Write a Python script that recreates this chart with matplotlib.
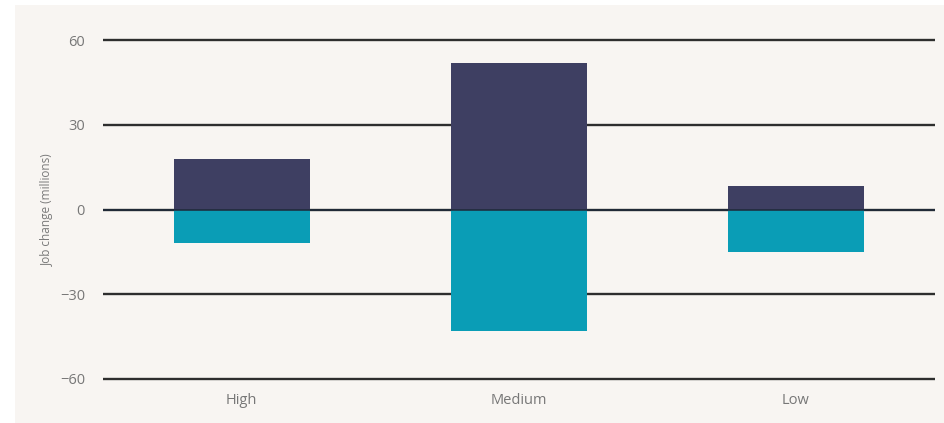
import matplotlib.pyplot as plt
from matplotlib.patches import Rectangle

# Job change by skill level (millions)
skill_levels = ['High', 'Medium', 'Low']
jobs_gained = [18, 52, 8.5]
jobs_lost = [-12, -43, -15]
y_ticks = [-60, -30, 0, 30, 60]

NAVY = '#3e3f62'
TEAL = '#0a9db6'
PANEL = '#f8f5f2'

plt.rcParams['font.family'] = ['Open Sans', 'DejaVu Sans']

fig = plt.figure(figsize=(9.45, 4.23), dpi=100, facecolor='white')
fig.patches.append(Rectangle((15 / 945, 0), 1, 418 / 423, transform=fig.transFigure,
                             facecolor=PANEL, edgecolor='none', zorder=-10))

ax = fig.add_axes([0.109, 0.0974, 0.880, 0.8146])
ax.set_zorder(5)
ax.set_facecolor('none')

x = range(len(skill_levels))
ax.bar(x, jobs_gained, width=0.49, color=NAVY, zorder=2)
ax.bar(x, jobs_lost, width=0.49, color=TEAL, zorder=2)

for t in y_ticks:
    ax.axhline(t, color='#2e2e2e', lw=1.7, zorder=1)
ax.axhline(0, color='#1e2a3a', lw=1.4, alpha=0.8, zorder=3)

ax.set_xlim(-0.5, 2.5)
ax.set_ylim(-61, 61)
ax.set_yticks(y_ticks)
ax.set_yticklabels(['\u221260', '\u221230', '0', '30', '60'])
ax.set_xticks(list(x))
ax.set_xticklabels(skill_levels)
ax.tick_params(axis='both', length=0, labelsize=10.5, labelcolor='#777777')
ax.tick_params(axis='y', pad=13)
ax.tick_params(axis='x', pad=8)
for s in ax.spines.values():
    s.set_visible(False)

ax.set_ylabel('Job change (millions)', fontsize=8.5, color='#7a7a7a', labelpad=4)

fig.savefig('out.png', dpi=100, facecolor=fig.get_facecolor())
